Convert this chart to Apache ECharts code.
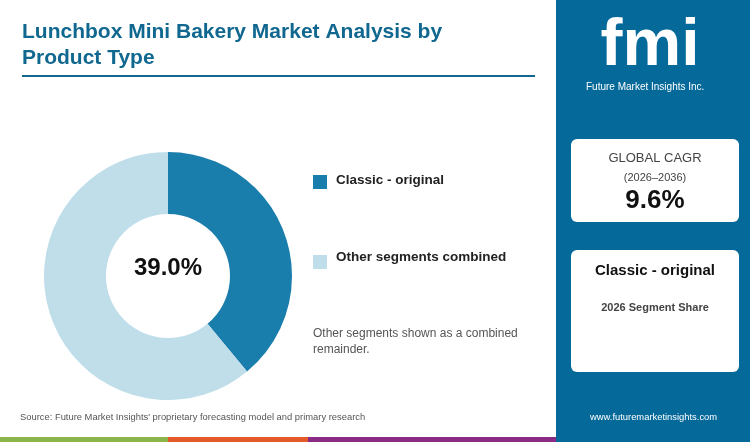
<!DOCTYPE html><html><head><meta charset="utf-8"><script src="https://cdn.jsdelivr.net/npm/echarts@6/dist/echarts.min.js"></script>
<style>body{margin:0}#c{width:750px;height:442px}</style></head><body><div id="c"></div><script>
const categories=['Classic - original','Other segments combined'];
const values=[39.0,61.0];
const colors=['#1a7ead','#bfdeea'];
const c=echarts.init(document.getElementById('c'));
const F='Arial, Liberation Sans, sans-serif';
c.setOption({animation:false,
graphic:[
{type:'rect',shape:{x:0,y:0,width:750,height:442},style:{fill:'#fff'},z:-10},
{type:'rect',shape:{x:556,y:0,width:194,height:437},style:{fill:'#05699a'},z:-5},
{type:'rect',shape:{x:0,y:437,width:168,height:5},style:{fill:'#8ab54a'}},
{type:'rect',shape:{x:168,y:437,width:140,height:5},style:{fill:'#e55a2b'}},
{type:'rect',shape:{x:308,y:437,width:250,height:5},style:{fill:'#8a2b86'}},
{type:'rect',shape:{x:556,y:437,width:194,height:5},style:{fill:'#05699a'}},
{type:'text',left:22,top:19,style:{text:'Lunchbox Mini Bakery Market Analysis by\nProduct Type',fill:'#10678f',font:'bold 21px '+F,lineHeight:26}},
{type:'rect',shape:{x:22,y:75,width:513,height:2},style:{fill:'#10678f'}},
{type:'rect',shape:{x:313,y:175,width:14,height:14},style:{fill:colors[0]}},
{type:'text',left:336,top:173,style:{text:categories[0],fill:'#222',font:'bold 13.5px '+F}},
{type:'rect',shape:{x:313,y:255,width:14,height:14},style:{fill:colors[1]}},
{type:'text',left:336,top:250,style:{text:categories[1],fill:'#222',font:'bold 13.5px '+F}},
{type:'text',left:313,top:326,style:{text:'Other segments shown as a combined\nremainder.',fill:'#555',font:'12px '+F,lineHeight:16}},
{type:'text',left:20,top:413,style:{text:"Source: Future Market Insights' proprietary forecasting model and primary research",fill:'#555',font:'9.4px '+F}},
{type:'text',left:590,top:413,style:{text:'www.futuremarketinsights.com',fill:'#fff',font:'9.4px '+F}},
{type:'text',x:650,y:14,style:{text:'fmi',align:'center',fill:'#fff',font:'bold 66px '+F}},
{type:'text',left:586,top:82,style:{text:'Future Market Insights Inc.',fill:'#fff',font:'10px '+F}},
{type:'rect',shape:{x:571,y:139,width:168,height:83,r:6},style:{fill:'#fff'}},
{type:'text',x:655,y:152,style:{text:'GLOBAL CAGR',align:'center',fill:'#444',font:'13px '+F}},
{type:'text',x:655,y:172,style:{text:'(2026–2036)',align:'center',fill:'#444',font:'11px '+F}},
{type:'text',x:655,y:188,style:{text:'9.6%',align:'center',fill:'#111',font:'bold 26px '+F}},
{type:'rect',shape:{x:571,y:250,width:168,height:122,r:6},style:{fill:'#fff'}},
{type:'text',x:655,y:263,style:{text:'Classic - original',align:'center',fill:'#111',font:'bold 15px '+F}},
{type:'text',x:655,y:302,style:{text:'2026 Segment Share',align:'center',fill:'#444',font:'bold 11px '+F}},
{type:'text',x:168,y:256,style:{text:values[0].toFixed(1)+'%',align:'center',fill:'#111',font:'bold 24px '+F}}
],
series:[{type:'pie',center:[168,276],radius:[62,124],startAngle:90,clockwise:true,label:{show:false},silent:true,
data:categories.map((n,i)=>({name:n,value:values[i],itemStyle:{color:colors[i]}}))}]
});
</script></body></html>
